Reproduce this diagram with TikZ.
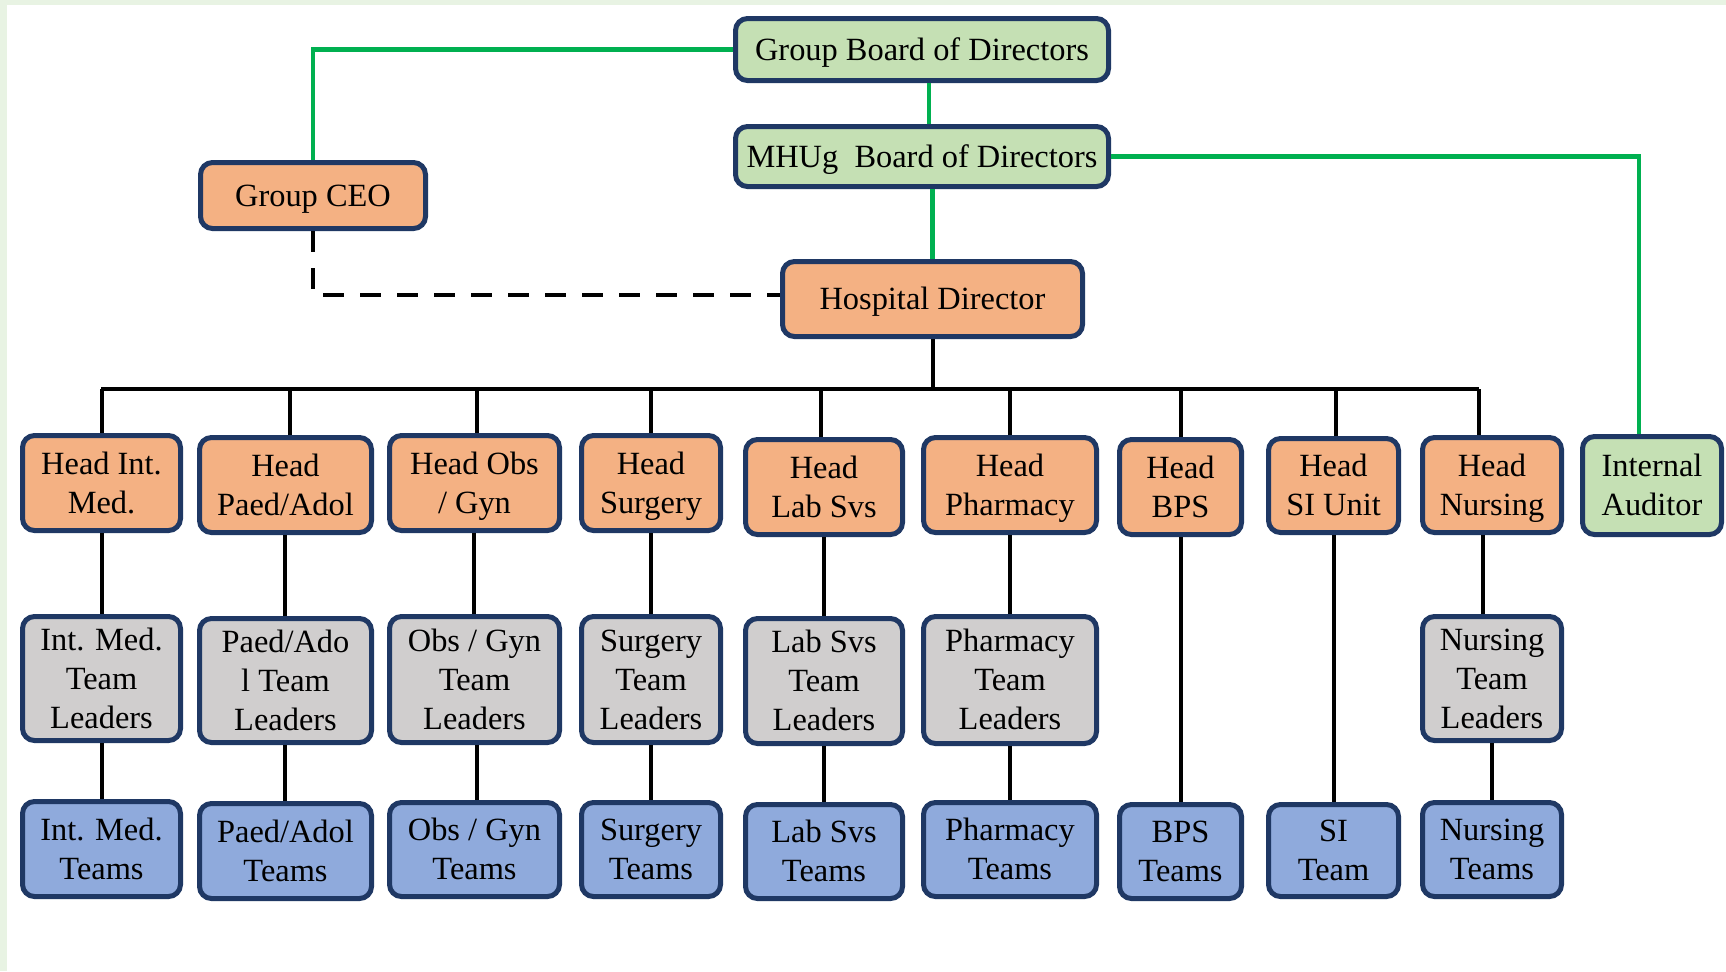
\documentclass[tikz,border=0pt]{standalone}
\usepackage{fontspec}
\setmainfont{Liberation Serif}
\definecolor{bgreen}{HTML}{E8F3E3}
\definecolor{navy}{HTML}{1F3864}
\definecolor{orangef}{HTML}{F4B183}
\definecolor{greenf}{HTML}{C5E0B4}
\definecolor{grayf}{HTML}{D0CECE}
\definecolor{bluef}{HTML}{8FAADC}
\definecolor{gline}{HTML}{00B050}
\newcommand\wstrut{\vrule width0pt height0.891em depth0.216em\relax}
\tikzset{
  basebox/.style={draw=navy, line width=2.5pt, rounded corners=6pt, inner sep=0pt, align=center,
    font=\fontsize{16.2}{19.5}\selectfont, text=black},
  obox/.style={basebox, fill=orangef},
  gbox/.style={basebox, fill=greenf},
  tlbox/.style={basebox, fill=grayf},
  tmbox/.style={basebox, fill=bluef},
  conn/.style={black, line width=2pt},
  greenconn/.style={gline, line width=2.2pt},
  dashconn/.style={black, line width=2pt, dash pattern=on 10.5pt off 8pt},
}
\newcommand\bx[7]{\node[#1, minimum width={(#5-#3-5)*0.5pt}, minimum height={(#6-#4-5)*0.5pt}] (#2) at ({(#3+#5)/2},{(#4+#6)/2}) {\wstrut#7\wstrut};}
\begin{document}
\begin{tikzpicture}[x=0.5pt, y=-0.5pt]
\useasboundingbox (0,0) rectangle (1726,971);
\fill[bgreen] (0,0) rectangle (1726,971);
\fill[white] (7,5) rectangle (1726,971);
% top
\bx{gbox}{gbd}{733}{16}{1111}{83}{Group Board of Directors}
\bx{gbox}{mhu}{733}{124}{1111}{189}{MHUg\ \ Board of Directors}
\bx{obox}{ceo}{198}{160}{428}{231}{Group CEO}
\bx{obox}{hd}{780}{259}{1085}{339}{Hospital Director}
% heads
\bx{obox}{h1}{20}{433}{183}{533}{Head Int.\\Med.}
\bx{obox}{h2}{197}{435}{374}{535}{Head\\Paed/Adol}
\bx{obox}{h3}{387}{433}{562}{533}{Head Obs\\/ Gyn}
\bx{obox}{h4}{579}{433}{723}{533}{Head\\Surgery}
\bx{obox}{h5}{743}{437}{905}{537}{Head\\Lab Svs}
\bx{obox}{h6}{921}{435}{1099}{535}{Head\\Pharmacy}
\bx{obox}{h7}{1117}{437}{1244}{537}{Head\\BPS}
\bx{obox}{h8}{1266}{436}{1401}{535}{Head\\SI Unit}
\bx{obox}{h9}{1420}{435}{1564}{535}{Head\\Nursing}
\bx{gbox}{ia}{1580}{434}{1724}{537}{Internal\\Auditor}
% team leaders
\bx{tlbox}{l1}{20}{614}{183}{743}{Int. Med.\\Team\\Leaders}
\bx{tlbox}{l2}{197}{616}{374}{745}{Paed/Ado\\l Team\\Leaders}
\bx{tlbox}{l3}{387}{614}{562}{745}{Obs / Gyn\\Team\\Leaders}
\bx{tlbox}{l4}{579}{614}{723}{745}{Surgery\\Team\\Leaders}
\bx{tlbox}{l5}{743}{616}{905}{746}{Lab Svs\\Team\\Leaders}
\bx{tlbox}{l6}{921}{614}{1099}{746}{Pharmacy\\Team\\Leaders}
\bx{tlbox}{l9}{1420}{614}{1564}{743}{Nursing\\Team\\Leaders}
% teams
\bx{tmbox}{t1}{20}{799}{183}{899}{Int. Med.\\Teams}
\bx{tmbox}{t2}{197}{801}{374}{901}{Paed/Adol\\Teams}
\bx{tmbox}{t3}{387}{800}{562}{899}{Obs / Gyn\\Teams}
\bx{tmbox}{t4}{579}{800}{723}{899}{Surgery\\Teams}
\bx{tmbox}{t5}{743}{802}{905}{901}{Lab Svs\\Teams}
\bx{tmbox}{t6}{921}{800}{1099}{899}{Pharmacy\\Teams}
\bx{tmbox}{t7}{1117}{802}{1244}{901}{BPS\\Teams}
\bx{tmbox}{t8}{1266}{802}{1401}{899}{SI\\Team}
\bx{tmbox}{t9}{1420}{800}{1564}{899}{Nursing\\Teams}
% connectors
\coordinate (busL) at (101,389);
\coordinate (busR) at (1479,389);
\draw[greenconn] (ceo.north) |- (gbd.west);
\draw[greenconn] ([xshift=3.5pt]gbd.south) -- ([xshift=3.5pt]mhu.north);
\draw[greenconn] (hd.north) -- (hd.north |- mhu.south);
\draw[greenconn] (mhu.east) -| ([xshift=-6.5pt]ia.north);
\draw[dashconn] (ceo.south) |- ([yshift=2pt]hd.west);
\draw[conn] (hd.south) -- (hd.south |- busL);
\draw[conn] (busL) -- (busR);
\foreach \h/\s in {h1/0,h2/2,h3/1,h4/0,h5/-1.5,h6/0,h7/0,h8/1,h9/-6.5}{
  \draw[conn] ([xshift=\s pt]\h.north) -- ([xshift=\s pt]\h.north |- busL);
}
\foreach \a/\b/\s in {h1/l1/0,h2/l2/-0.5,h3/l3/-0.5,h4/l4/0,h5/l5/0,h6/l6/0,h9/l9/-4.5,l1/t1/0,l2/t2/-0.5,l3/t3/1,l4/t4/0,l5/t5/0,l6/t6/0,l9/t9/0,h7/t7/0,h8/t8/0}{
  \draw[conn] ([xshift=\s pt]\a.south) -- ([xshift=\s pt]\b.north);
}
\end{tikzpicture}
\end{document}
